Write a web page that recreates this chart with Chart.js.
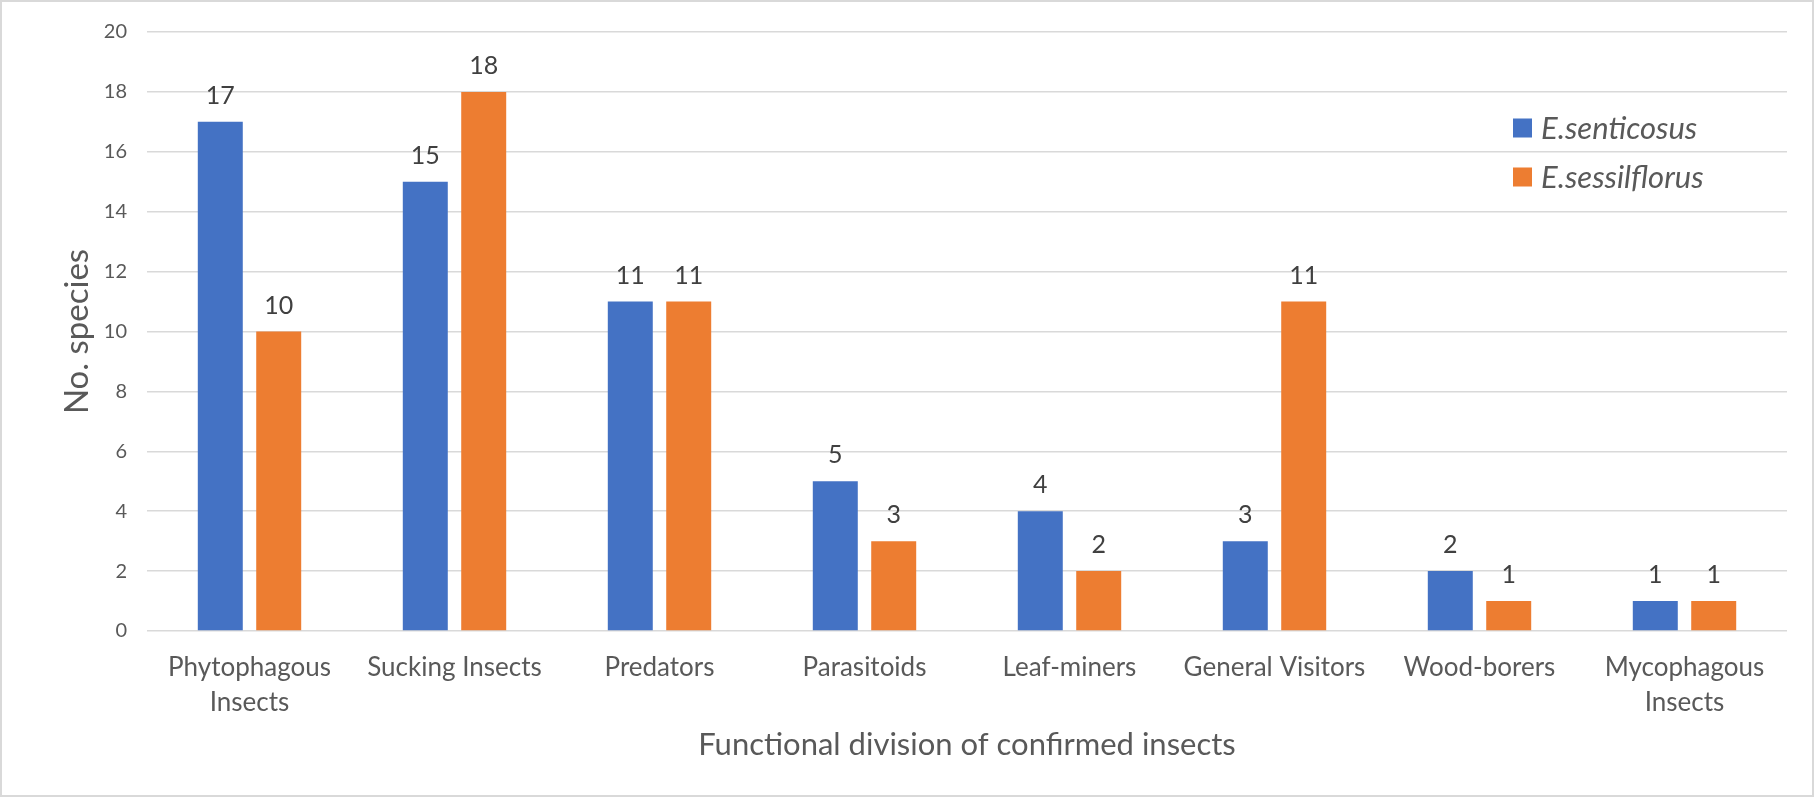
<!DOCTYPE html>
<html>
<head>
<meta charset="utf-8">
<script src="https://cdn.jsdelivr.net/npm/chart.js@4/dist/chart.umd.min.js"></script>
<style>
    html, body { margin: 0; padding: 0; background: #fff; }
    #wrap { width: 1814px; height: 797px; }
</style>
</head>
<body>
<div id="wrap"><canvas id="insectChart" width="1814" height="797"></canvas></div>
<script>
/* ============================================
   DATA
============================================ */
const categories = [
    ['Phytophagous', 'Insects'],
    'Sucking Insects',
    'Predators',
    'Parasitoids',
    'Leaf-miners',
    'General Visitors',
    'Wood-borers',
    ['Mycophagous', 'Insects']
];
const seriesNames = ['E.senticosus', 'E.sessilflorus'];
const senticosus = [17, 15, 11, 5, 4, 3, 2, 1];
const sessilflorus = [10, 18, 11, 3, 2, 11, 1, 1];
const yTicks = [0, 2, 4, 6, 8, 10, 12, 14, 16, 18, 20];

const BLUE = '#4472C4';
const ORANGE = '#ED7D31';
const FONT = "Lato, 'Open Sans', sans-serif";

/* ============================================
   PLUGINS
============================================ */
// outer frame + white background
const framePlugin = {
    id: 'frame',
    beforeDraw(chart) {
        const ctx = chart.ctx;
        ctx.save();
        ctx.fillStyle = '#fff';
        ctx.fillRect(0, 0, chart.width, chart.height);
        ctx.strokeStyle = '#d9d9d9';
        ctx.lineWidth = 2;
        ctx.strokeRect(1, 1, chart.width - 2, chart.height - 2);
        ctx.restore();
    }
};

// value labels above each bar
const valueLabels = {
    id: 'valueLabels',
    afterDatasetsDraw(chart) {
        const ctx = chart.ctx;
        ctx.save();
        ctx.font = '25px ' + FONT;
        ctx.fillStyle = '#404040';
        ctx.textAlign = 'center';
        ctx.textBaseline = 'alphabetic';
        chart.data.datasets.forEach((ds, i) => {
            chart.getDatasetMeta(i).data.forEach((bar, j) => {
                ctx.fillText(String(ds.data[j]), bar.x, bar.y - 18);
            });
        });
        ctx.restore();
    }
};

// legend inside the plot, top right
const insideLegend = {
    id: 'insideLegend',
    afterDraw(chart) {
        const ctx = chart.ctx;
        ctx.save();
        ctx.font = 'italic 31px ' + FONT;
        ctx.textBaseline = 'middle';
        chart.data.datasets.forEach((ds, i) => {
            const cy = 128 + i * 49;
            ctx.fillStyle = ds.backgroundColor;
            ctx.fillRect(1513, cy - 9.5, 19, 19);
            ctx.fillStyle = '#595959';
            ctx.fillText(ds.label, 1541, cy + 1);
        });
        ctx.restore();
    }
};

/* ============================================
   CHART
============================================ */
function initChart() {
    const canvas = document.getElementById('insectChart');

    new Chart(canvas.getContext('2d'), {
        type: 'bar',
        data: {
            labels: categories,
            datasets: [
                {
                    label: seriesNames[0],
                    data: senticosus,
                    backgroundColor: BLUE,
                    barPercentage: 0.77,
                    categoryPercentage: 0.57
                },
                {
                    label: seriesNames[1],
                    data: sessilflorus,
                    backgroundColor: ORANGE,
                    barPercentage: 0.77,
                    categoryPercentage: 0.57
                }
            ]
        },
        options: {
            responsive: false,
            animation: false,
            devicePixelRatio: 1,
            layout: {
                padding: { top: 28, right: 27, bottom: 0, left: 0 }
            },
            plugins: {
                legend: { display: false },
                tooltip: { enabled: false }
            },
            scales: {
                x: {
                    grid: { display: false, drawTicks: false },
                    border: { display: false },
                    ticks: {
                        color: '#595959',
                        padding: 19,
                        maxRotation: 0,
                        autoSkip: false,
                        font: { family: FONT, size: 26, lineHeight: 1.35 }
                    },
                    title: {
                        display: true,
                        text: 'Functional division of confirmed insects',
                        color: '#595959',
                        font: { family: FONT, size: 31, lineHeight: 1.2 },
                        padding: { top: 0, bottom: 33 }
                    },
                    afterFit: s => { s.height = 166; }
                },
                y: {
                    min: 0,
                    max: 20,
                    afterBuildTicks: s => { s.ticks = yTicks.map(v => ({ value: v })); },
                    grid: { color: '#d9d9d9', lineWidth: 1.5, drawTicks: false },
                    border: { display: false },
                    ticks: {
                        color: '#595959',
                        padding: 20,
                        font: { family: FONT, size: 20 }
                    },
                    title: {
                        display: true,
                        text: 'No. species',
                        color: '#595959',
                        font: { family: FONT, size: 33, lineHeight: 1.2 },
                        padding: { top: 58, bottom: 0 }
                    },
                    afterFit: s => { s.width = 147; }
                }
            }
        },
        plugins: [framePlugin, valueLabels, insideLegend]
    });
}

document.addEventListener('DOMContentLoaded', initChart);
</script>
</body>
</html>
